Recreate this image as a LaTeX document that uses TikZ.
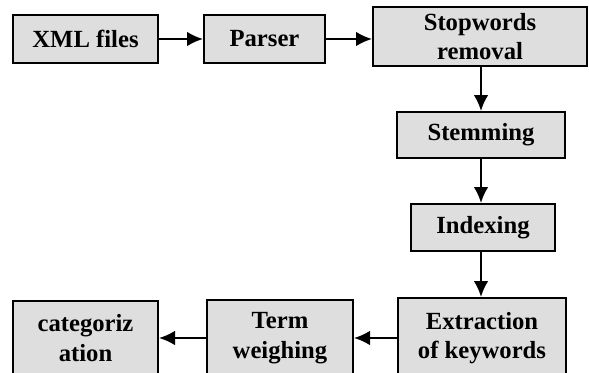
\documentclass[tikz,border=0pt]{standalone}
\usepackage{fontspec}
\setmainfont{Liberation Serif}
\usepackage{tikz}
\usetikzlibrary{arrows.meta,positioning}
\tikzset{font=\fontsize{18.5}{22}\selectfont\bfseries}
\tikzset{stage/.style={draw,line width=1.5pt,fill=black!13,align=center,inner sep=0pt}}
\tikzset{flow/.style={line width=1.6pt,-{Latex[length=12pt,width=11pt]}}}

\begin{document}
\begin{tikzpicture}[x=0.75pt,y=-0.75pt]
  \useasboundingbox (0,0) rectangle (589,372);

  \node[stage,minimum width=108.75pt,minimum height=36pt] (xml) at (85.5,39) {XML files};
  \node[stage,minimum width=90.75pt,minimum height=36pt] (parser) at (264.5,39) {Parser};
  \node[stage,minimum width=160.5pt,minimum height=44.25pt] (stop) at (480,36.5) {Stopwords\\removal};
  \node[stage,minimum width=126pt,minimum height=34.5pt] (stem) at (481,135) {Stemming};
  \node[stage,minimum width=108pt,minimum height=35.25pt] (index) at (483,227.5) {Indexing};
  \node[stage,minimum width=126pt,minimum height=60pt] (extract) at (482,338) {Extraction\\of keywords};
  \node[stage,minimum width=109.5pt,minimum height=57pt] (term) at (280,338) {Term\\weighing};
  \node[stage,minimum width=108.75pt,minimum height=55.5pt] (cat) at (85.5,338) {categoriz\\ation};

  \draw[flow] (xml) -- (parser);
  \draw[flow] (parser) -- (parser -| stop.west);
  \draw[flow] (stop.south -| stem) -- (stem.north);
  \draw[flow] (stem) -- (stem |- index.north);
  \draw[flow] (index.south -| stem) -- (stem |- extract.north);
  \draw[flow] (extract) -- (term);
  \draw[flow] (term) -- (cat);

\end{tikzpicture}
\end{document}
